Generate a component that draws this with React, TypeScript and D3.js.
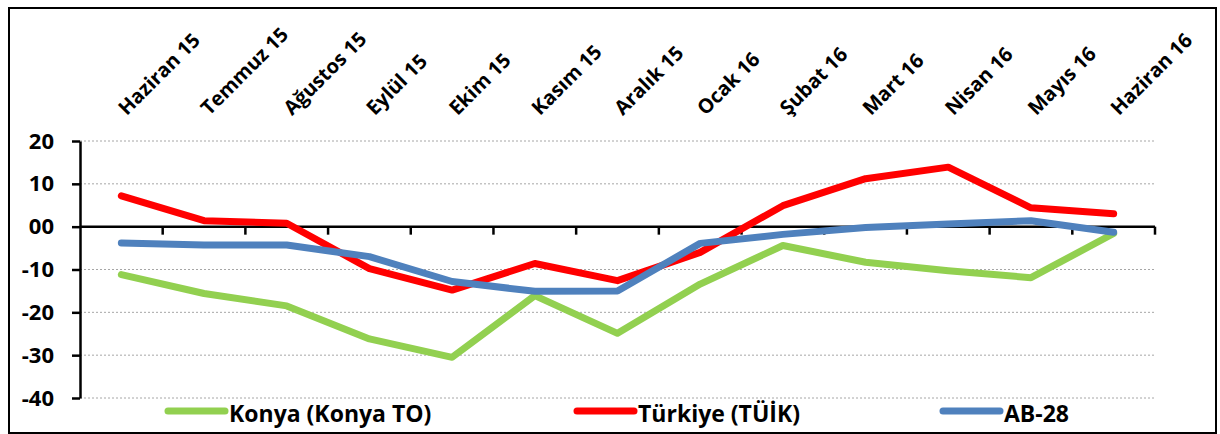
import React, { useEffect, useRef } from 'react';
import * as d3 from 'd3';

const categories = ['Haziran 15', 'Temmuz 15', 'Ağustos 15', 'Eylül 15', 'Ekim 15', 'Kasım 15', 'Aralık 15', 'Ocak 16', 'Şubat 16', 'Mart 16', 'Nisan 16', 'Mayıs 16', 'Haziran 16'];
const konya = [-11.2, -15.6, -18.5, -26.2, -30.5, -16.1, -24.9, -13.4, -4.4, -8.3, -10.3, -11.9, -1.6];
const turkiye = [7.2, 1.4, 0.8, -9.8, -14.8, -8.6, -12.6, -6.0, 4.9, 11.2, 13.9, 4.4, 3.0];
const ab28 = [-3.8, -4.3, -4.3, -7.0, -12.8, -15.1, -15.0, -3.9, -1.8, -0.2, 0.6, 1.4, -1.3];
const yTicks = [20, 10, 0, -10, -20, -30, -40];
const yTickLabels = ['20', '10', '00', '-10', '-20', '-30', '-40'];

const seriesNames = ['Konya (Konya TO)', 'Türkiye (TÜİK)', 'AB-28'];
const seriesColors = ['#92D050', '#FF0000', '#4F81BD'];

const FONT = '"Open Sans", sans-serif';

const App = () => {
  const svgRef = useRef<SVGSVGElement>(null);

  useEffect(() => {
    const svg = d3.select(svgRef.current);
    svg.selectAll('*').remove();

    const W = 1220;
    const H = 434;
    const left = 80;
    const right = 1155;
    const top = 141;
    const bottom = 398;

    svg.attr('width', W).attr('height', H);

    // outer frame
    svg.append('rect')
      .attr('x', 9).attr('y', 8)
      .attr('width', 1207).attr('height', 425)
      .attr('fill', 'white')
      .attr('stroke', 'black')
      .attr('stroke-width', 2);

    const x = d3.scaleBand().domain(categories).range([left, right]);
    const cx = (c: string) => (x(c) as number) + x.bandwidth() / 2;
    const y = d3.scaleLinear().domain([-40, 20]).range([bottom, top]);

    // gridlines
    svg.append('g')
      .selectAll('line')
      .data(yTicks.filter((t) => t !== 0))
      .enter()
      .append('line')
      .attr('x1', left).attr('x2', right)
      .attr('y1', (d) => y(d)).attr('y2', (d) => y(d))
      .attr('stroke', '#a6a6a6')
      .attr('stroke-width', 1)
      .attr('stroke-dasharray', '2,2');

    // y axis
    const yAxis = svg.append('g')
      .attr('transform', `translate(${left},0)`)
      .call(d3.axisLeft(y).tickValues(yTicks).tickSize(8).tickSizeOuter(0).tickFormat((d, i) => yTickLabels[i]));
    yAxis.select('.domain').attr('stroke', 'black').attr('stroke-width', 2.5);
    yAxis.selectAll('.tick line').attr('stroke', 'black').attr('stroke-width', 2.5);
    yAxis.selectAll('.tick text')
      .attr('x', -26)
      .attr('font-family', FONT)
      .attr('font-weight', 700)
      .attr('font-size', 22)
      .attr('fill', 'black');

    // x axis at zero, ticks between categories
    const boundaries = categories.map((c) => x(c) as number).concat([right]);
    const xAxis = svg.append('g');
    xAxis.append('line')
      .attr('x1', left).attr('x2', right)
      .attr('y1', y(0)).attr('y2', y(0))
      .attr('stroke', 'black').attr('stroke-width', 2.5);
    xAxis.selectAll('.xt')
      .data(boundaries.slice(1))
      .enter()
      .append('line')
      .attr('class', 'xt')
      .attr('x1', (d) => d).attr('x2', (d) => d)
      .attr('y1', y(0)).attr('y2', y(0) + 8)
      .attr('stroke', 'black').attr('stroke-width', 2.5);

    // category labels at top
    svg.append('g')
      .selectAll('text')
      .data(categories)
      .enter()
      .append('text')
      .attr('transform', (d) => `translate(${cx(d)},111) rotate(-45)`)
      .attr('text-anchor', 'start')
      .attr('dominant-baseline', 'central')
      .attr('font-family', FONT)
      .attr('font-weight', 700)
      .attr('font-size', 20)
      .attr('fill', 'black')
      .text((d) => d);

    // lines
    const allSeries = [konya, turkiye, ab28];
    const line = d3.line<number>()
      .x((d, i) => cx(categories[i]))
      .y((d) => y(d));

    allSeries.forEach((values, i) => {
      svg.append('path')
        .datum(values)
        .attr('fill', 'none')
        .attr('stroke', seriesColors[i])
        .attr('stroke-width', 7)
        .attr('stroke-linecap', 'round')
        .attr('stroke-linejoin', 'round')
        .attr('d', line);
    });

    // legend
    const legendX = [168, 577, 943];
    const legendY = 411;
    const legend = svg.append('g');
    seriesNames.forEach((name, i) => {
      legend.append('line')
        .attr('x1', legendX[i]).attr('x2', legendX[i] + 57)
        .attr('y1', legendY).attr('y2', legendY)
        .attr('stroke', seriesColors[i])
        .attr('stroke-width', 7)
        .attr('stroke-linecap', 'round');
      legend.append('text')
        .attr('x', legendX[i] + 61)
        .attr('y', legendY + 2)
        .attr('dominant-baseline', 'central')
        .attr('font-family', FONT)
        .attr('font-weight', 700)
        .attr('font-size', 23)
        .attr('fill', 'black')
        .text(name);
    });
  }, []);

  return (
    <svg ref={svgRef} style={{ position: 'absolute', left: 0, top: 0 }}></svg>
  );
};

export default App;
